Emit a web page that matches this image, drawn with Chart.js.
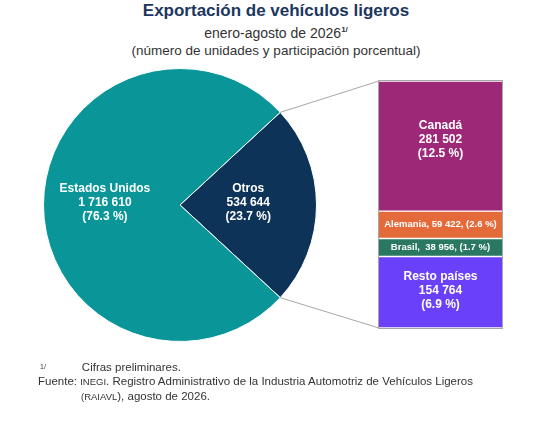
<!DOCTYPE html>
<html><head><meta charset="utf-8">
<script src="https://cdn.jsdelivr.net/npm/chart.js@4"></script>
<style>
body{margin:0;width:552px;height:422px;background:#fff;font-family:"Liberation Sans",Arial,sans-serif;position:relative;overflow:hidden}
#t{position:absolute;top:1px;left:0;width:552px;text-align:center;color:#333}
#t .a{font-weight:bold;font-size:17px;color:#1b3660;line-height:20px}
#t .b{font-size:14px;line-height:17px}
#t .c{font-size:13.5px;line-height:17px}
#pie{position:absolute;left:0;top:0}
#bar{position:absolute;left:379px;top:81px}
#f{position:absolute;left:38px;top:360px;font-size:11.5px;color:#333;line-height:14px}
.sc{font-variant:small-caps;text-transform:lowercase;font-size:10px}
</style></head><body>
<div id="t"><div class="a">Exportación de vehículos ligeros</div><div class="b">enero-agosto de 2026<sup style="font-size:8px;font-weight:bold">1/</sup></div><div class="c">(número de unidades y participación porcentual)</div></div>
<canvas id="pie" width="552" height="422"></canvas>
<canvas id="bar" width="123" height="247"></canvas>
<div id="f"><span style="font-size:7px;vertical-align:top;margin-left:2px">1/</span><span style="margin-left:36px">Cifras preliminares.</span><br>Fuente: <span style="font-size:9.5px">INEGI</span>. Registro Administrativo de la Industria Automotriz de Vehículos Ligeros<br><span style="margin-left:43px"><span style="font-size:9.5px">(RAIAVL</span>), agosto de 2026.</span></div>
<script>
const pieLabels=["Otros","Estados Unidos"];
const pieValues=[534644,1716610];
const piePct=["23.7 %","76.3 %"];
const pieColors=["#0d3358","#0a9699"];
const barLabels=["Canadá","Alemania","Brasil","Resto países"];
const barValues=[281502,59422,38956,154764];
const barPct=["12.5 %","2.6 %","1.7 %","6.9 %"];
const barColors=["#9e2878","#e46a3a","#2a7862","#6a40f8"];
const fmt=v=>String(v).replace(/\B(?=(\d{3})+(?!\d))/g," ");
Chart.defaults.font.family='"Liberation Sans",Arial,sans-serif';
const total=barValues.reduce((a,b)=>a+b,0);
const barChart=new Chart(document.getElementById('bar'),{
type:'bar',
data:{labels:['x'],datasets:barLabels.map((l,i)=>({label:l,data:[barValues[i]],backgroundColor:barColors[i],borderColor:'#fff',borderWidth:{top:1,bottom:1},borderSkipped:false,categoryPercentage:1,barPercentage:1}))},
options:{responsive:false,animation:false,layout:{padding:0},
plugins:{legend:{display:false},tooltip:{enabled:false}},
scales:{x:{stacked:true,display:false},y:{stacked:true,display:false,reverse:true,min:0,max:total}}},
plugins:[{id:'lbl',afterDraw(c){const x=c.ctx;x.save();x.fillStyle='#fff';x.textAlign='center';x.textBaseline='middle';
c.data.datasets.forEach((d,i)=>{const el=c.getDatasetMeta(i).data[0];const cy=(el.y+el.base)/2;const cx=el.x;
if(i===0||i===3){x.font='bold 12px "Liberation Sans",Arial';const lines=[barLabels[i],fmt(barValues[i]),'('+barPct[i]+')'];lines.forEach((t,k)=>x.fillText(t,cx,cy+(k-1)*14+(i===3?-2:-6)));}
else{x.font='bold 9.5px "Liberation Sans",Arial';x.fillText(barLabels[i]+', '+(i===2?' ':'')+fmt(barValues[i])+', ('+barPct[i]+')',cx,cy);}
});x.restore();}}]
});
const otrosFrac=pieValues[0]/(pieValues[0]+pieValues[1]);
new Chart(document.getElementById('pie'),{
type:'pie',
data:{labels:pieLabels,datasets:[{data:pieValues,backgroundColor:pieColors,borderColor:'#fff',borderWidth:1}]},
options:{responsive:false,animation:false,rotation:90-otrosFrac*180,
layout:{padding:{left:43,top:68,right:235,bottom:80}},
plugins:{legend:{display:false},tooltip:{enabled:false}}},
plugins:[{id:'extra',afterDraw(c){const x=c.ctx;const a=c.getDatasetMeta(0).data[0];
const cx=a.x,cy=a.y,r=a.outerRadius;
const ba=barChart.chartArea;const bx=379+ba.left,by0=81+ba.top,by1=81+ba.bottom;
x.save();x.strokeStyle='#a6a6a6';x.lineWidth=1;
x.beginPath();x.moveTo(cx+r*Math.cos(a.startAngle),cy+r*Math.sin(a.startAngle));x.lineTo(bx,by0);
x.moveTo(cx+r*Math.cos(a.endAngle),cy+r*Math.sin(a.endAngle));x.lineTo(bx,by1);x.stroke();
x.strokeRect(bx-0.5,by0-0.5,ba.right-ba.left+1,by1-by0+1);
x.fillStyle='#fff';x.textAlign='center';x.textBaseline='middle';x.font='bold 12px "Liberation Sans",Arial';
[[0,cx+r*0.5,cy],[1,cx-r*0.55,cy]].forEach(([i,px,py])=>{[pieLabels[i],fmt(pieValues[i]),'('+piePct[i]+')'].forEach((t,k)=>x.fillText(t,px,py+(k-1)*14-2));});
x.restore();}}]
});
</script></body></html>
